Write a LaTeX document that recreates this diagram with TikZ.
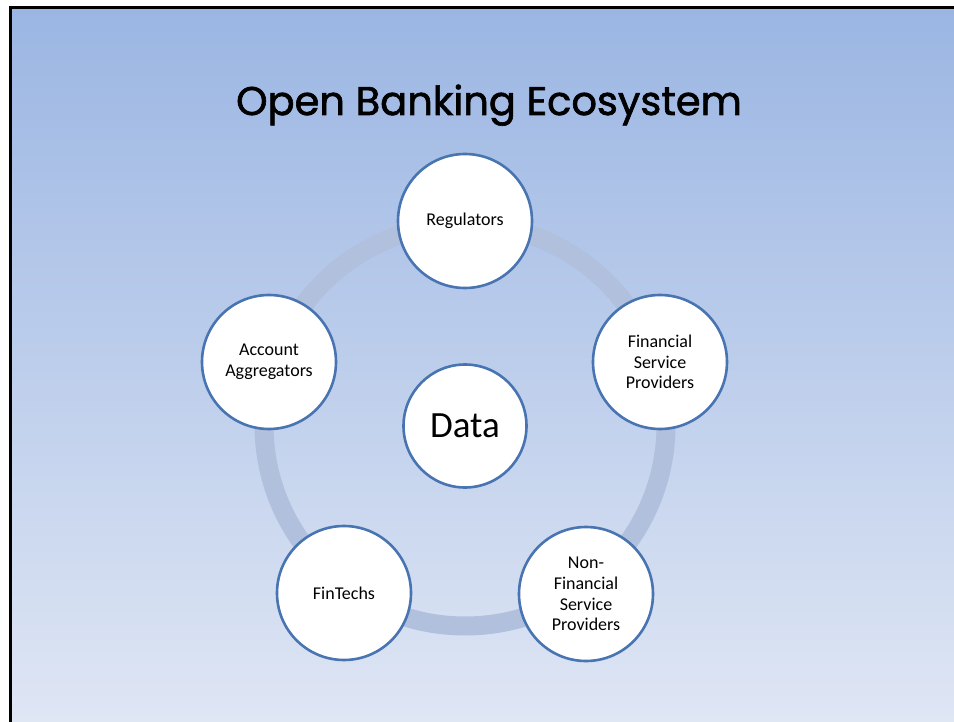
\documentclass[tikz,border=0pt]{standalone}
\usepackage{fontspec}
\setmainfont{Carlito}
\newfontfamily\headingfont[FakeBold=1.6]{Poppins}
\definecolor{bgtop}{RGB}{155,182,227}
\definecolor{bgbottom}{RGB}{223,230,244}
\definecolor{ringcol}{RGB}{176,192,221}
\definecolor{rimcol}{RGB}{72,116,178}
\begin{document}
\begin{tikzpicture}[x=1pt,y=-1pt,
  member/.style={circle, draw=rimcol, line width=2.6pt, fill=white,
    minimum size=134pt, inner sep=0pt, align=center,
    font=\fontsize{18}{20.6}\selectfont},
  hub/.style={member, minimum size=123pt, font=\fontsize{37}{40}\selectfont}]
  \useasboundingbox (0,0) rectangle (954,722);
  \fill[white] (0,0) rectangle (954,722);
  % slide background with frame on the visible edges
  \shade[top color=bgtop, bottom color=bgbottom] (10,8) rectangle (954,722);
  \draw[line width=3pt, black] (10,722) -- (10,8) -- (954,8);

  % title
  \node[anchor=base, font=\headingfont\fontsize{40}{48}\selectfont] (title)
    at (489,115) {Open Banking Ecosystem};

  % cycle ring behind the members
  \coordinate (ringc) at (465,425);
  \draw[ringcol, line width=19pt] (ringc) circle[radius=201];

  % members
  \node[hub] (data) at (465,426) {Data};
  \node[member] (reg) at (465,221) {Regulators};
  \node[member] (fsp) at (660,362) {Financial\\Service\\Providers};
  \node[member] (nfsp) at (586,594) {Non-\\Financial\\Service\\Providers};
  \node[member] (fin) at (344,593) {FinTechs};
  \node[member] (agg) at (269,362) {Account\\Aggregators};
\end{tikzpicture}
\end{document}
